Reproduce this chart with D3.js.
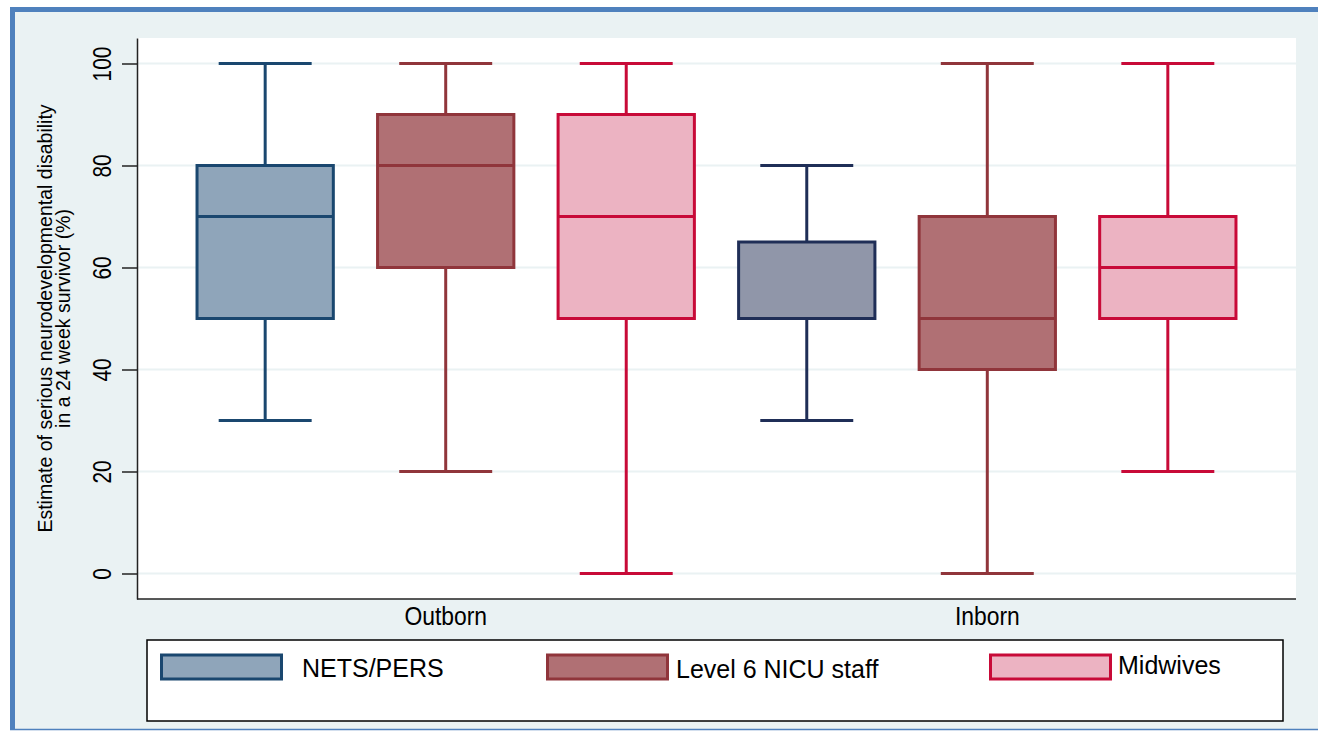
<!DOCTYPE html>
<html lang='en'>
  <head>
    <meta charset='utf-8'>
    <title>Neurodevelopmental disability estimates</title>
    <script type='text/javascript' src='https://cdn.jsdelivr.net/npm/d3@7'></script>
    <style type='text/css'>
    body{
      margin: 0;
      background: #ffffff;
    }
    text{
      font-family: 'Liberation Sans', Arial, sans-serif;
      fill: #000;
    }
    .axis path,
    .axis line{
      fill: none;
      stroke: #222;
      stroke-width: 1.5;
    }
    </style>
  </head>
  <body>
    <script type='text/javascript'>

    // data
    var groups = ['Outborn', 'Inborn'];
    var series = ['NETS/PERS', 'Level 6 NICU staff', 'Midwives'];
    var mins    = [[30, 20, 0], [30, 0, 20]];
    var q1s     = [[50, 60, 50], [50, 40, 50]];
    var medians = [[70, 80, 70], [50, 50, 60]];
    var q3s     = [[80, 90, 90], [65, 70, 70]];
    var maxs    = [[100, 100, 100], [80, 100, 100]];
    var yTicks = [0, 20, 40, 60, 80, 100];

    var fills   = {'NETS/PERS': '#8fa5ba', 'Level 6 NICU staff': '#b07074', 'Midwives': '#ecb3c2'};
    var strokes = {'NETS/PERS': '#1a476f', 'Level 6 NICU staff': '#90353b', 'Midwives': '#c80a38'};
    // the inborn NETS box is drawn in a darker navy in the original
    var override = {'Inborn|NETS/PERS': {fill: '#9096a9', stroke: '#1f2e57'}};

    var w = 1318;
    var h = 731;
    var plot = {left: 137, right: 1296, top: 38, bottom: 599};

    var boxes = [];
    groups.forEach(function(g, gi){
      series.forEach(function(s, si){
        boxes.push({
          group: g, series: s, key: g + '|' + s,
          min: mins[gi][si], q1: q1s[gi][si], med: medians[gi][si],
          q3: q3s[gi][si], max: maxs[gi][si]
        });
      });
    });

    var svg = d3.select('body')
                .append('svg')
                .attr('width', w)
                .attr('height', h);

    // outer frame
    svg.append('rect')
       .attr('x', 10).attr('y', 7)
       .attr('width', w).attr('height', 723)
       .attr('fill', '#eaf2f3');
    svg.append('line')
       .attr('x1', 10).attr('x2', w).attr('y1', 9.5).attr('y2', 9.5)
       .attr('stroke', '#4f81bd').attr('stroke-width', 5);
    svg.append('line')
       .attr('x1', 12.5).attr('x2', 12.5).attr('y1', 7).attr('y2', 730)
       .attr('stroke', '#4f81bd').attr('stroke-width', 5);
    svg.append('line')
       .attr('x1', 10).attr('x2', w).attr('y1', 729.5).attr('y2', 729.5)
       .attr('stroke', '#4f81bd').attr('stroke-width', 1.5);

    svg.append('rect')
       .attr('x', plot.left).attr('y', plot.top)
       .attr('width', plot.right - plot.left)
       .attr('height', plot.bottom - plot.top)
       .attr('fill', '#ffffff');

    var yScale = d3.scaleLinear()
                   .domain([-5, 105])
                   .range([plot.bottom, plot.top]);

    var xScale = d3.scalePoint()
                   .domain(boxes.map(function(d){ return d.key; }))
                   .range([plot.left, plot.right])
                   .padding(0.71);

    var boxW = xScale.step() * 0.755;
    var capW = xScale.step() * 0.515;

    // gridlines
    svg.selectAll('.grid')
       .data(yTicks)
       .enter()
       .append('line')
       .attr('class', 'grid')
       .attr('x1', plot.left).attr('x2', plot.right)
       .attr('y1', function(d){ return yScale(d); })
       .attr('y2', function(d){ return yScale(d); })
       .attr('stroke', '#eaf2f3')
       .attr('stroke-width', 2);

    function fillOf(d){ return override[d.key] ? override[d.key].fill : fills[d.series]; }
    function strokeOf(d){ return override[d.key] ? override[d.key].stroke : strokes[d.series]; }

    var bx = svg.selectAll('.box')
                .data(boxes)
                .enter()
                .append('g')
                .attr('class', 'box')
                .attr('transform', function(d){ return 'translate(' + xScale(d.key) + ',0)'; });

    // whiskers
    bx.append('line')
      .attr('y1', function(d){ return yScale(d.max); })
      .attr('y2', function(d){ return yScale(d.q3); })
      .attr('stroke', strokeOf).attr('stroke-width', 3);
    bx.append('line')
      .attr('y1', function(d){ return yScale(d.q1); })
      .attr('y2', function(d){ return yScale(d.min); })
      .attr('stroke', strokeOf).attr('stroke-width', 3);
    bx.append('line')
      .attr('x1', -capW / 2).attr('x2', capW / 2)
      .attr('y1', function(d){ return yScale(d.max); })
      .attr('y2', function(d){ return yScale(d.max); })
      .attr('stroke', strokeOf).attr('stroke-width', 3);
    bx.append('line')
      .attr('x1', -capW / 2).attr('x2', capW / 2)
      .attr('y1', function(d){ return yScale(d.min); })
      .attr('y2', function(d){ return yScale(d.min); })
      .attr('stroke', strokeOf).attr('stroke-width', 3);

    bx.append('rect')
      .attr('x', -boxW / 2)
      .attr('width', boxW)
      .attr('y', function(d){ return yScale(d.q3); })
      .attr('height', function(d){ return yScale(d.q1) - yScale(d.q3); })
      .attr('fill', fillOf)
      .attr('stroke', strokeOf)
      .attr('stroke-width', 3);

    bx.append('line')
      .attr('x1', -boxW / 2).attr('x2', boxW / 2)
      .attr('y1', function(d){ return yScale(d.med); })
      .attr('y2', function(d){ return yScale(d.med); })
      .attr('stroke', strokeOf).attr('stroke-width', 3);

    // y axis
    var yAxis = d3.axisLeft(yScale)
                  .tickValues(yTicks)
                  .tickSize(15)
                  .tickSizeOuter(0);

    var gy = svg.append('g')
                .attr('class', 'axis')
                .attr('transform', 'translate(' + plot.left + ',0)')
                .call(yAxis);
    gy.selectAll('.tick line').attr('stroke', '#444');
    gy.selectAll('text')
      .attr('x', null)
      .attr('dy', null)
      .attr('text-anchor', 'middle')
      .attr('dominant-baseline', 'central')
      .attr('font-size', 25.5)
      .attr('transform', 'translate(-35,0) rotate(-90) scale(0.82,1)');

    // bottom line
    svg.append('line')
       .attr('x1', plot.left).attr('x2', plot.right)
       .attr('y1', plot.bottom).attr('y2', plot.bottom)
       .attr('stroke', '#222').attr('stroke-width', 1.5);

    // group labels
    svg.selectAll('.glabel')
       .data(groups)
       .enter()
       .append('text')
       .attr('class', 'glabel')
       .attr('text-anchor', 'middle')
       .attr('font-size', 26)
       .attr('transform', function(g){
         return 'translate(' + xScale(g + '|' + series[1]) + ',625) scale(0.88,1)';
       })
       .text(function(g){ return g; });

    // y title
    var yTitle = ['Estimate of serious neurodevelopmental disability', 'in a 24 week survivor (%)'];
    svg.selectAll('.ytitle')
       .data(yTitle)
       .enter()
       .append('text')
       .attr('class', 'ytitle')
       .attr('text-anchor', 'middle')
       .attr('font-size', 19.5)
       .attr('transform', function(d, i){
         return 'translate(' + (52 + i * 18) + ',' + ((plot.top + plot.bottom) / 2) + ') rotate(-90)';
       })
       .text(function(d){ return d; });

    // legend
    svg.append('rect')
       .attr('x', 147).attr('y', 640)
       .attr('width', 1136).attr('height', 81)
       .attr('fill', '#ffffff')
       .attr('stroke', '#000')
       .attr('stroke-width', 1.5);

    var legendX = [160, 546, 989];
    var legendTextX = [302, 676, 1118];
    var legendTextY = [677, 678, 674];
    var lg = svg.selectAll('.legend')
                .data(series)
                .enter()
                .append('g')
                .attr('class', 'legend');
    lg.append('rect')
      .attr('x', function(d, i){ return legendX[i] + 1.5; })
      .attr('y', 655)
      .attr('width', 120)
      .attr('height', 24)
      .attr('fill', function(d){ return fills[d]; })
      .attr('stroke', function(d){ return strokes[d]; })
      .attr('stroke-width', 3);
    lg.append('text')
      .attr('x', function(d, i){ return legendTextX[i]; })
      .attr('y', function(d, i){ return legendTextY[i]; })
      .attr('font-size', 25)
      .text(function(d){ return d; });

    </script>
  </body>
</html>
